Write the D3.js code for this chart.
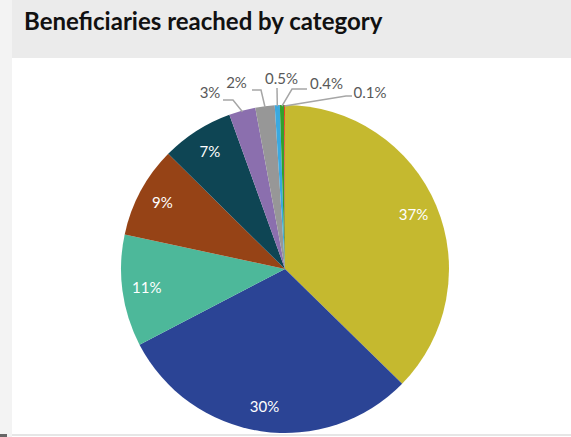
<!DOCTYPE html>
<html>
<head>
<meta charset="utf-8">
<script src="https://cdn.jsdelivr.net/npm/d3@7"></script>
<style>
  html, body { margin: 0; padding: 0; background: #fff; }
  svg { display: block; font-family: Lato, "Open Sans", sans-serif; }
</style>
</head>
<body>
<div id="container"></div>
<script>
/* DATA */
const categories = ["A", "B", "C", "D", "E", "F", "G", "H", "I", "J"];
const shares = [37.3, 30.0, 11.0, 9.0, 7.1, 2.6, 1.9, 0.5, 0.4, 0.1];
const labels = ["37%", "30%", "11%", "9%", "7%", "3%", "2%", "0.5%", "0.4%", "0.1%"];
const colors = ["#c5b92f", "#2b4495", "#4db89a", "#964316", "#0e4554",
                "#8b6fae", "#979797", "#3ba9e0", "#33a02c", "#e8412c"];

/* CONSTANTS */
const width = 571;
const height = 437;
const cx = 285, cy = 269, radius = 164;

// outer label layout for the small slices (relative to pie centre)
// t = text centre, s = line start next to text, e = elbow
const outerLayout = {
  5: { t: [-75, -176], s: [-62, -169], e: [-52, -169] },
  6: { t: [-48.5, -186], s: [-33, -179], e: [-24, -179] },
  7: { t: [-3.5, -190], s: [-8, -181], e: [-8, -181] },
  8: { t: [41.5, -185], s: [22, -180], e: [7, -180] },
  9: { t: [85, -176], s: [67, -173], e: [61, -173] }
};

const svg = d3.select("#container")
  .append("svg")
  .attr("width", width)
  .attr("height", height);

// backgrounds
svg.append("rect").attr("x", 0).attr("y", 0).attr("width", 12).attr("height", height).attr("fill", "#f3f3f3");
svg.append("rect").attr("x", 12).attr("y", 0).attr("width", width - 12).attr("height", 58).attr("fill", "#ebebeb");
svg.append("rect").attr("x", 12).attr("y", 434).attr("width", width - 12).attr("height", 2).attr("fill", "#e6e6e6");
svg.append("rect").attr("x", 0).attr("y", 434).attr("width", 7).attr("height", 3).attr("fill", "#666");

// title
svg.append("text")
  .attr("x", 24)
  .attr("y", 30)
  .attr("font-size", 24)
  .attr("font-weight", "bold")
  .attr("fill", "#111")
  .text("Beneficiaries reached by category");

/* PIE */
const data = categories.map((c, i) => ({ cat: c, value: shares[i], label: labels[i], color: colors[i], i }));

const pie = d3.pie().value(d => d.value).sort(null);
const arcs = pie(data);

const arc = d3.arc().innerRadius(0).outerRadius(radius);
const labelArc = d3.arc().innerRadius(radius * 0.85).outerRadius(radius * 0.85);

const g = svg.append("g").attr("transform", `translate(${cx},${cy})`);

g.selectAll("path.slice")
  .data(arcs)
  .join("path")
  .attr("class", "slice")
  .attr("d", arc)
  .attr("fill", d => d.data.color);

// inside labels
g.selectAll("text.inner")
  .data(arcs.filter(d => !(d.data.i in outerLayout)))
  .join("text")
  .attr("class", "inner")
  .attr("transform", d => `translate(${labelArc.centroid(d)})`)
  .attr("text-anchor", "middle")
  .attr("dy", "0.35em")
  .attr("font-size", 15)
  .attr("fill", "#fff")
  .text(d => d.data.label);

// outside labels + leader lines
const outer = arcs.filter(d => d.data.i in outerLayout);

g.selectAll("polyline.leader")
  .data(outer)
  .join("polyline")
  .attr("class", "leader")
  .attr("fill", "none")
  .attr("stroke", "#a6a6a6")
  .attr("stroke-width", 1.5)
  .attr("points", d => {
    const L = outerLayout[d.data.i];
    const mid = (d.startAngle + d.endAngle) / 2;
    const p = [Math.sin(mid) * (radius - 1), -Math.cos(mid) * (radius - 1)];
    return [L.s, L.e, p].map(q => q.join(",")).join(" ");
  });

g.selectAll("text.outer")
  .data(outer)
  .join("text")
  .attr("class", "outer")
  .attr("x", d => outerLayout[d.data.i].t[0])
  .attr("y", d => outerLayout[d.data.i].t[1])
  .attr("text-anchor", "middle")
  .attr("dy", "0.35em")
  .attr("font-size", 15)
  .attr("fill", "#595959")
  .text(d => d.data.label);
</script>
</body>
</html>
